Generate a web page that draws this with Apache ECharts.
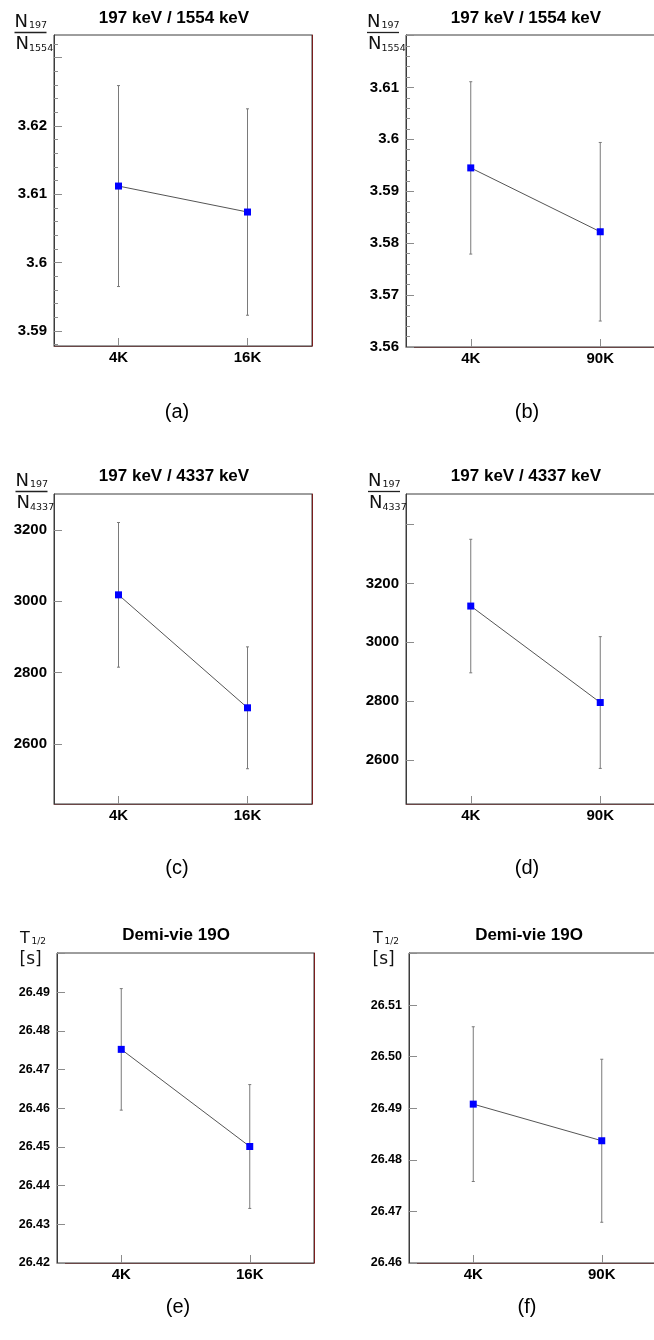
<!DOCTYPE html>
<html><head><meta charset="utf-8">
<script src="https://cdn.jsdelivr.net/npm/echarts@6/dist/echarts.min.js"></script>
<style>html,body{margin:0;padding:0;background:#fff}#c{width:654px;height:1340px}</style>
</head><body><div id="c"></div>
<script>
// ---- data ----
const categoriesLeft = ['4K', '16K'];
const categoriesRight = ['4K', '90K'];
const panelTitles = ['197 keV / 1554 keV', '197 keV / 1554 keV', '197 keV / 4337 keV', '197 keV / 4337 keV', 'Demi-vie 19O', 'Demi-vie 19O'];
const captions = ['(a)', '(b)', '(c)', '(d)', '(e)', '(f)'];

const valuesA = [3.6112, 3.6074];
const errorsA = [0.0147, 0.0151];
const valuesB = [3.5945, 3.5822];
const errorsB = [0.0166, 0.0172];
const valuesC = [3018, 2701];
const errorsC = [203, 171];
const valuesD = [3123, 2795];
const errorsD = [227, 224];
const valuesE = [26.4752, 26.4501];
const errorsE = [0.0157, 0.0160];
const valuesF = [26.4908, 26.4837];
const errorsF = [0.0150, 0.0158];

const yRangeA = [3.5878, 3.6333];
const yRangeB = [3.56, 3.6201];
const yRangeC = [2431, 3301];
const yRangeD = [2450, 3504];
const yRangeE = [26.42, 26.5001];
const yRangeF = [26.46, 26.5201];

const majorTicksA = [3.59, 3.60, 3.61, 3.62, 3.63];
const tickLabelsA = [3.59, 3.60, 3.61, 3.62];
const majorTicksB = [3.56, 3.57, 3.58, 3.59, 3.60, 3.61, 3.62];
const tickLabelsB = [3.56, 3.57, 3.58, 3.59, 3.60, 3.61];
const majorTicksC = [2600, 2800, 3000, 3200];
const tickLabelsC = [2600, 2800, 3000, 3200];
const majorTicksD = [2600, 2800, 3000, 3200, 3400];
const tickLabelsD = [2600, 2800, 3000, 3200];
const majorTicksE = [26.42, 26.43, 26.44, 26.45, 26.46, 26.47, 26.48, 26.49, 26.50];
const tickLabelsE = [26.42, 26.43, 26.44, 26.45, 26.46, 26.47, 26.48, 26.49];
const majorTicksF = [26.46, 26.47, 26.48, 26.49, 26.50, 26.51, 26.52];
const tickLabelsF = [26.46, 26.47, 26.48, 26.49, 26.50, 26.51];
const minorStepA = 0.002;
const minorStepB = 0.002;

// ---- layout ----
const FONT = 'Liberation Sans, Arial, sans-serif';
const panels = [
  {cats: categoriesLeft, vals: valuesA, errs: errorsA, range: yRangeA, major: majorTicksA, labels: tickLabelsA, minor: minorStepA, fmt: 'short', lab: 15,
   grid: {left: 54, top: 35, width: 258, height: 311}, title: [174, 18], cap: [177, 412], ytitle: {kind: 'frac', dx: 0, dy: 0, den: '1554'}},
  {cats: categoriesRight, vals: valuesB, errs: errorsB, range: yRangeB, major: majorTicksB, labels: tickLabelsB, minor: minorStepB, fmt: 'short', lab: 15,
   grid: {left: 406, top: 35, width: 259, height: 312}, title: [526, 18], cap: [527, 412], ytitle: {kind: 'frac', dx: 352.5, dy: 0, den: '1554'}},
  {cats: categoriesLeft, vals: valuesC, errs: errorsC, range: yRangeC, major: majorTicksC, labels: tickLabelsC, minor: 0, fmt: 'short', lab: 15,
   grid: {left: 54, top: 494, width: 258, height: 310}, title: [174, 476], cap: [177, 868], ytitle: {kind: 'frac', dx: 1, dy: 459, den: '4337'}},
  {cats: categoriesRight, vals: valuesD, errs: errorsD, range: yRangeD, major: majorTicksD, labels: tickLabelsD, minor: 0, fmt: 'short', lab: 15,
   grid: {left: 406, top: 494, width: 259, height: 310}, title: [526, 476], cap: [527, 868], ytitle: {kind: 'frac', dx: 353.5, dy: 459, den: '4337'}},
  {cats: categoriesLeft, vals: valuesE, errs: errorsE, range: yRangeE, major: majorTicksE, labels: tickLabelsE, minor: 0, fmt: 'fixed2', lab: 12.5,
   grid: {left: 57, top: 953, width: 257, height: 310}, title: [176, 935], cap: [178, 1307], ytitle: {kind: 'T', dx: 0, dy: 0}},
  {cats: categoriesRight, vals: valuesF, errs: errorsF, range: yRangeF, major: majorTicksF, labels: tickLabelsF, minor: 0, fmt: 'fixed2', lab: 12.5,
   grid: {left: 409, top: 953, width: 257, height: 310}, title: [529, 935], cap: [527, 1307], ytitle: {kind: 'T', dx: 353, dy: 0}}
];

function minorTicks(range, step) {
  const out = [];
  if (!step) return out;
  const k0 = Math.ceil(range[0] / step - 1e-9), k1 = Math.floor(range[1] / step + 1e-9);
  for (let k = k0; k <= k1; k++) out.push(+(k * step).toFixed(6));
  return out;
}

const grids = [], xAxes = [], yAxes = [], series = [], graphics = [];

panels.forEach((p, i) => {
  grids.push(Object.assign({show: true, borderColor: '#3c3c3c', borderWidth: 1, backgroundColor: 'transparent', containLabel: false, outerBoundsMode: 'none'}, p.grid));
  xAxes.push({
    gridIndex: i, type: 'category', data: p.cats, boundaryGap: true,
    axisLine: {show: true, lineStyle: {color: '#6a4646', width: 1}},
    axisTick: {show: true, alignWithLabel: true, inside: true, length: 8, lineStyle: {color: '#8c8c8c'}},
    axisLabel: {fontWeight: 'bold', fontSize: 15, fontFamily: FONT, color: '#000', margin: 4},
    splitLine: {show: false}
  });
  const fmt = p.fmt === 'fixed2' ? (v => v.toFixed(2)) : (v => String(+v.toFixed(2)));
  yAxes.push({
    gridIndex: i, type: 'value', min: p.range[0], max: p.range[1], position: 'left',
    axisLine: {show: true, lineStyle: {color: '#3c3c3c'}},
    axisTick: {show: true, inside: true, length: 8, customValues: p.major, lineStyle: {color: '#8c8c8c'}},
    axisLabel: {customValues: p.labels, formatter: fmt, fontWeight: 'bold', fontSize: p.lab, fontFamily: FONT, color: '#000', margin: 7},
    splitLine: {show: false}
  });
  yAxes.push({
    gridIndex: i, type: 'value', min: p.range[0], max: p.range[1], position: 'left',
    axisLine: {show: false},
    axisTick: {show: p.minor > 0, inside: true, length: 4, customValues: minorTicks(p.range, p.minor), lineStyle: {color: '#8c8c8c'}},
    axisLabel: {show: false}, splitLine: {show: false}
  });
  yAxes.push({
    gridIndex: i, type: 'value', min: p.range[0], max: p.range[1], position: 'right',
    axisLine: {show: true, lineStyle: {color: '#7a1e1e', width: 1}},
    axisTick: {show: false}, axisLabel: {show: false}, splitLine: {show: false}
  });
  const errData = p.vals.map((v, k) => [k, v, p.errs[k]]);
  series.push({
    type: 'custom', xAxisIndex: i, yAxisIndex: 3 * i, data: errData, z: 2, silent: true,
    encode: {x: 0, y: 1},
    renderItem: (params, api) => {
      const x = api.value(0), y = api.value(1), e = api.value(2);
      const t = api.coord([x, y + e]), b = api.coord([x, y - e]);
      const st = {stroke: '#7a7a7a', lineWidth: 1};
      return {type: 'group', children: [
        {type: 'line', shape: {x1: t[0], y1: t[1], x2: b[0], y2: b[1]}, style: st},
        {type: 'line', shape: {x1: t[0] - 1.5, y1: t[1], x2: t[0] + 1.5, y2: t[1]}, style: st},
        {type: 'line', shape: {x1: b[0] - 1.5, y1: b[1], x2: b[0] + 1.5, y2: b[1]}, style: st}
      ]};
    }
  });
  series.push({
    type: 'line', xAxisIndex: i, yAxisIndex: 3 * i, data: p.vals, z: 3,
    symbol: 'rect', symbolSize: 7, showSymbol: true,
    itemStyle: {color: '#0000ff'}, lineStyle: {color: '#555', width: 1}
  });

  // title
  graphics.push({type: 'text', x: p.title[0], y: p.title[1], silent: true,
    style: {text: panelTitles[i], font: 'bold 17px ' + FONT, fill: '#000', align: 'center', verticalAlign: 'middle', textAlign: 'center', textVerticalAlign: 'middle'}});
  // caption
  graphics.push({type: 'text', x: p.cap[0], y: p.cap[1], silent: true,
    style: {text: captions[i], font: '20px ' + FONT, fill: '#000', align: 'center', verticalAlign: 'middle', textAlign: 'center', textVerticalAlign: 'middle'}});
  // y title
  const yt = p.ytitle, dx = yt.dx, dy = yt.dy;
  const txt = (s, x, y, size) => ({type: 'text', x: x + dx, y: y + dy, silent: true,
    style: {text: s, font: size + 'px DejaVu Sans, sans-serif', fill: '#111', align: 'left', verticalAlign: 'middle', textAlign: 'left', textVerticalAlign: 'middle'}});
  if (yt.kind === 'frac') {
    graphics.push(txt('N', 14.5, 22, 18));
    graphics.push(txt('197', 29, 26, 9.5));
    graphics.push({type: 'line', silent: true, shape: {x1: 14.5 + dx, y1: 32.5 + dy, x2: 46.5 + dx, y2: 32.5 + dy}, style: {stroke: '#222', lineWidth: 1.3}});
    graphics.push(txt('N', 15.5, 44.5, 18));
    graphics.push(txt(yt.den, 29, 49, 9.5));
  } else {
    graphics.push(txt('T', 20, 938.5, 16));
    graphics.push(txt('1/2', 31.5, 942, 9));
    graphics.push(txt('[s]', 19.5, 960, 17));
  }
});

const chart = echarts.init(document.getElementById('c'), null, {renderer: 'canvas'});
chart.setOption({
  animation: false,
  backgroundColor: '#fff',
  grid: grids, xAxis: xAxes, yAxis: yAxes, series: series, graphic: graphics
});
</script></body></html>
